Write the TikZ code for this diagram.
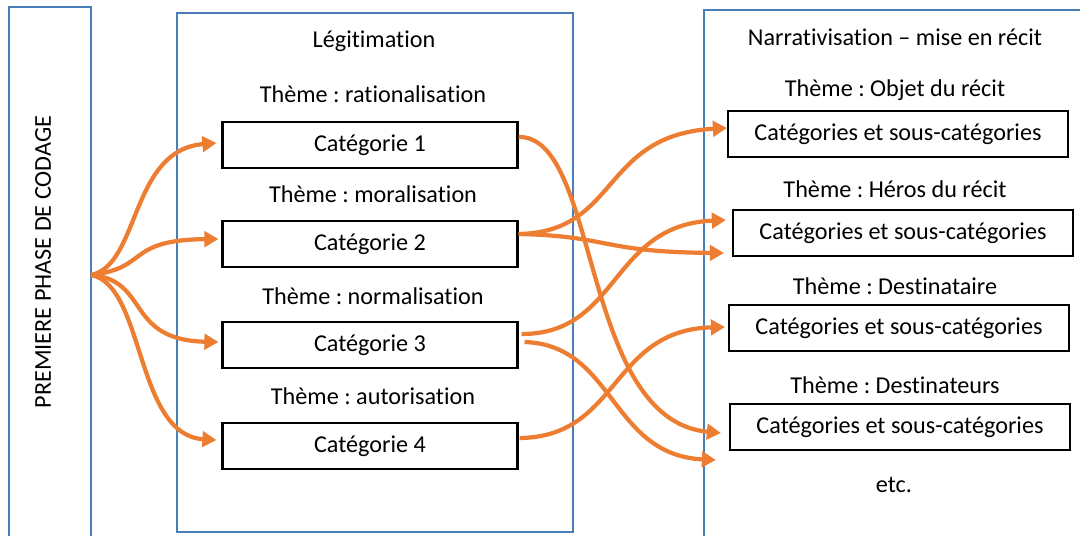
\documentclass[tikz,border=0pt]{standalone}
\usepackage{fontspec}
\setmainfont{Carlito}[Ligatures=NoCommon]
\usetikzlibrary{arrows.meta,calc}
\frenchspacing

\definecolor{panelblue}{HTML}{4A7EBB}
\definecolor{arroworange}{HTML}{ED7D31}

\tikzset{
  panel/.style={draw=panelblue, line width=1.3pt},
  catbox/.style={draw=black, line width=1.5pt, inner sep=0pt,
    minimum width=295*0.025cm, minimum height=46*0.025cm},
  subbox/.style={catbox, minimum width=340*0.025cm},
  flow/.style={draw=arroworange, line width=3pt,
    -{Triangle[length=10pt,width=11pt]}}
}

\begin{document}
\begin{tikzpicture}[x=0.025cm, y=-0.025cm, font=\fontsize{17.2}{20}\selectfont]

% Picture frame (1080 x 535 px)
\clip (0,0) rectangle (1080,535);

% Draw the three panels
\draw[panel] (9,7) rectangle (91,560);
\draw[panel] (177,13) rectangle (573,532);
\draw[panel] (704,10) rectangle (1100,560);

% First coding phase
\node[rotate=90] (phase) at (43,262) {PREMIERE PHASE DE CODAGE};
\coordinate (src) at (91,275);

% Legitimation panel
\node (legit) at (374,41) {Légitimation};
\foreach \i/\y/\thm in {1/94/rationalisation, 2/194/moralisation,
                        3/296/normalisation, 4/396/autorisation} {
    \node (th\i) at (373,\y) {Thème : \thm};
}
\foreach \i/\y in {1/145, 2/244, 3/345, 4/446} {
    \node[catbox] (cat\i) at (370,\y) {Catégorie \i};
}

% Narrativisation panel
\node (narr) at (895,37) {Narrativisation – mise en récit};
\foreach \i/\y/\thm in {1/90/Objet du récit, 2/189/Héros du récit,
                        3/286/Destinataire, 4/385/Destinateurs} {
    \node (rt\i) at (895,\y) {Thème : \thm};
}
\foreach \i/\x/\y in {1/898/134, 2/903/233, 3/899/328, 4/900/427} {
    \node[subbox] (sub\i) at (\x,\y) {Catégories et sous-catégories};
}
\node (etc) at (894,485) {etc.};

% Arrows from the first phase to the categories
\draw[flow] (src) .. controls (140,265) and (130,150) .. ($(cat1.west)+(-5,-2)$);
\draw[flow] (src) .. controls (150,268) and (125,240) .. ($(cat2.west)+(-3,-5)$);
\draw[flow] (src) .. controls (150,280) and (125,340) .. ($(cat3.west)+(-3,-3)$);
\draw[flow] (src) .. controls (145,285) and (135,435) .. ($(cat4.west)+(-5,-6)$);

% Arrows from the categories to the narrative themes
\draw[flow] ($(cat1.east)+(0,-8)$) .. controls (600,135) and (580,420) .. ($(sub4.west)+(-8,6)$);
\draw[flow] ($(cat2.east)+(0,-10)$) .. controls (620,232) and (600,135) .. ($(sub1.west)+(0,-6)$);
\draw[flow] ($(cat2.east)+(0,-10)$) .. controls (610,236) and (600,252) .. ($(sub2.west)+(-8,20)$);
\draw[flow] ($(cat3.east)+(3,-11)$) .. controls (620,334) and (610,225) .. ($(sub2.west)+(-6,-13)$);
\draw[flow] ($(cat3.east)+(6,-3)$) .. controls (615,345) and (610,455) .. ($(sub4.west)+(-13,33)$);
\draw[flow] ($(cat4.east)+(1,-8)$) .. controls (620,437) and (610,330) .. ($(sub3.west)+(-3,-1)$);

\end{tikzpicture}
\end{document}
